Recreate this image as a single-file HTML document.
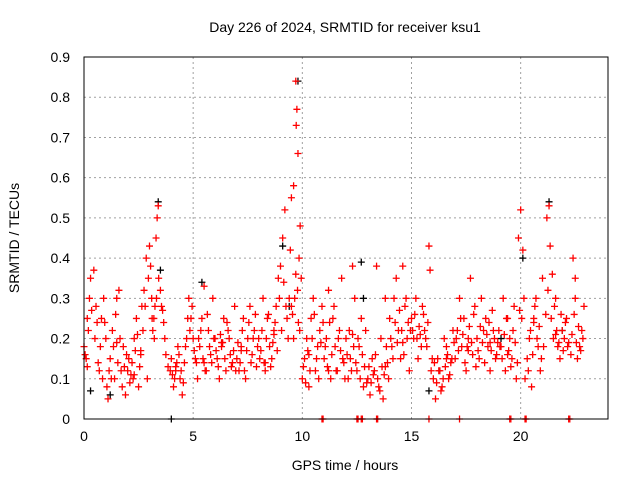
<!DOCTYPE html>
<html><head><meta charset="utf-8"><style>
body{margin:0;background:#fff;width:640px;height:480px;overflow:hidden}
svg{font-family:"Liberation Sans",sans-serif}
</style></head><body>
<svg id="chart" width="640" height="480" viewBox="0 0 640 480">
<rect width="640" height="480" fill="#fff"/>
<text x="345" y="32" font-size="14" text-anchor="middle">Day 226 of 2024, SRMTID for receiver ksu1</text>
<text x="345" y="470" font-size="14" text-anchor="middle">GPS time / hours</text>
<text x="0" y="0" font-size="14" text-anchor="middle" transform="translate(19,238) rotate(-90)">SRMTID / TECUs</text>
<g id="grid"></g>
<g id="ticks"></g>
<g id="black"></g>
<g id="red"></g>
<rect x="84" y="57" width="524" height="362" fill="none" stroke="#000" stroke-width="1"/>
</svg>
<script>
const xTicks=[0,5,10,15,20];
const yTicks=[0,0.1,0.2,0.3,0.4,0.5,0.6,0.7,0.8,0.9];
const yTickLabels=["0","0.1","0.2","0.3","0.4","0.5","0.6","0.7","0.8","0.9"];
const redT=[0.0,0.1,0.2,0.3,0.45,0.55,0.7,0.8,0.9,1.0,
1.05,1.1,1.2,1.3,1.4,1.5,1.6,1.7,1.8,1.9,
2.0,2.1,2.2,2.3,2.4,2.5,2.6,2.7,2.8,2.9,
2.95,3.0,3.05,3.1,3.15,3.2,3.25,3.3,3.35,3.4,3.5,3.7,
4.0,4.1,4.2,4.3,4.4,4.5,4.6,4.7,4.8,4.9,
5.0,5.1,5.2,5.3,5.4,5.5,5.6,5.7,5.8,5.9,
6.0,6.1,6.2,6.3,6.4,6.5,6.6,6.7,6.8,6.9,
7.0,7.1,7.2,7.3,7.4,7.5,7.6,7.7,7.8,7.9,
8.0,8.1,8.2,8.3,8.4,8.5,8.6,8.7,8.8,8.9,
9.0,9.1,9.2,9.3,9.4,9.5,9.6,9.7,9.75,9.72,9.8,9.85,9.9,9.95,9.6,9.5,
10.0,10.1,10.2,10.3,10.4,10.5,10.6,10.7,10.8,10.9,
11.0,11.1,11.2,11.3,11.4,11.5,11.6,11.7,11.8,11.9,
12.0,12.1,12.2,12.3,12.4,12.5,12.6,12.7,12.8,12.9,
13.0,13.1,13.2,13.3,13.4,13.5,13.6,13.7,13.8,13.9,
14.0,14.1,14.2,14.3,14.4,14.5,14.6,14.7,14.8,14.9,
15.0,15.1,15.2,15.3,15.8,15.85,15.6,15.7,15.9,15.5,
16.0,16.1,16.2,16.3,16.4,16.5,16.6,16.7,16.8,16.9,
17.0,17.1,17.2,17.3,17.4,17.5,17.6,17.7,17.8,17.9,
18.0,18.1,18.2,18.3,18.4,18.5,18.6,18.7,18.8,18.9,
19.0,19.1,19.2,19.3,19.4,19.5,19.6,19.7,19.8,19.9,
20.0,20.1,20.2,20.3,20.4,20.5,20.6,20.7,20.8,20.9,
21.0,21.2,21.3,21.35,21.4,21.5,21.6,21.7,21.8,21.9,
22.0,22.1,22.4,22.5,22.6,22.7,22.8,22.5,22.3,22.9,
10.9,10.95,12.5,12.55,12.7,12.75,13.4,13.45,15.8,17.2,19.5,19.55,20.2,20.25,22.2,22.25,
0.15,0.6,1.5,2.3,2.6,3.6,4.2,5.5,6.3,7.2,8.3,8.7,10.3,11.2,12.3,13.8,14.6,15.4,16.6,17.6,18.6,19.4,20.6,21.6,22.2];
const redV=[0.18,0.15,0.22,0.35,0.37,0.28,0.12,0.25,0.3,0.2,
0.08,0.05,0.15,0.22,0.1,0.3,0.32,0.12,0.18,0.06,
0.12,0.09,0.14,0.2,0.25,0.08,0.16,0.22,0.28,0.1,
0.35,0.43,0.38,0.3,0.22,0.25,0.28,0.45,0.5,0.53,0.32,0.2,
0.15,0.08,0.12,0.18,0.1,0.06,0.14,0.2,0.3,0.25,
0.2,0.15,0.1,0.18,0.25,0.33,0.12,0.22,0.16,0.3,
0.2,0.15,0.1,0.18,0.25,0.12,0.22,0.16,0.14,0.28,
0.15,0.12,0.18,0.25,0.1,0.2,0.28,0.16,0.22,0.13,
0.2,0.17,0.3,0.12,0.25,0.18,0.15,0.22,0.28,0.35,
0.38,0.45,0.52,0.25,0.3,0.55,0.58,0.84,0.77,0.73,0.66,0.4,0.48,0.35,0.2,0.28,
0.1,0.15,0.2,0.08,0.25,0.3,0.12,0.18,0.22,0.28,
0.15,0.2,0.32,0.1,0.25,0.18,0.12,0.22,0.35,0.14,
0.2,0.1,0.15,0.38,0.3,0.12,0.18,0.25,0.08,0.22,
0.1,0.06,0.15,0.12,0.38,0.08,0.2,0.05,0.3,0.14,
0.25,0.18,0.3,0.35,0.22,0.15,0.38,0.28,0.2,0.12,
0.25,0.2,0.3,0.15,0.43,0.37,0.22,0.18,0.12,0.28,
0.1,0.05,0.15,0.12,0.08,0.2,0.18,0.1,0.14,0.22,
0.15,0.22,0.3,0.18,0.25,0.12,0.2,0.35,0.16,0.28,
0.2,0.15,0.3,0.22,0.25,0.18,0.12,0.27,0.2,0.16,
0.22,0.18,0.3,0.12,0.25,0.2,0.15,0.28,0.1,0.45,
0.52,0.42,0.1,0.15,0.2,0.08,0.25,0.3,0.18,0.12,
0.35,0.5,0.53,0.43,0.25,0.2,0.3,0.18,0.15,0.22,
0.2,0.25,0.4,0.3,0.15,0.18,0.22,0.35,0.16,0.28,
0,0,0,0,0,0,0,0,0,0,0,0,0,0,0,0,
0.13,0.24,0.19,0.11,0.17,0.27,0.13,0.14,0.19,0.17,0.14,0.21,0.16,0.12,0.21,0.13,0.19,0.21,0.15,0.17,0.19,0.16,0.24,0.21,0.19];
const redT2=[0.05,0.15,0.25,0.35,0.5,0.65,0.75,0.85,0.95,
1.15,1.25,1.35,1.45,1.55,1.65,1.75,1.85,1.95,
2.05,2.15,2.25,2.35,2.45,2.55,2.65,2.75,2.85,
3.12,3.22,3.32,3.42,3.55,3.65,3.75,3.85,3.95,
4.05,4.15,4.25,4.35,4.45,4.55,4.65,4.75,4.85,4.95,
5.05,5.15,5.25,5.35,5.45,5.55,5.65,5.75,5.85,5.95,
6.05,6.15,6.25,6.35,6.45,6.55,6.65,6.75,6.85,6.95,
7.05,7.15,7.25,7.35,7.45,7.55,7.65,7.75,7.85,7.95,
8.05,8.15,8.25,8.35,8.45,8.55,8.65,8.75,8.85,8.95,
9.05,9.15,9.25,9.35,9.45,9.55,9.65,9.7,9.78,9.82,9.88,
10.05,10.15,10.25,10.35,10.45,10.55,10.65,10.75,10.85,10.95,
11.05,11.15,11.25,11.35,11.45,11.55,11.65,11.75,11.85,11.95,
12.05,12.15,12.25,12.35,12.45,12.55,12.65,12.75,12.85,12.95,
13.05,13.15,13.25,13.35,13.45,13.55,13.65,13.75,13.85,13.95,
14.05,14.15,14.25,14.35,14.45,14.55,14.65,14.75,14.85,14.95,
15.05,15.15,15.25,15.35,15.45,15.55,15.65,15.75,15.95,
16.05,16.15,16.25,16.35,16.45,16.55,16.65,16.75,16.85,16.95,
17.05,17.15,17.25,17.35,17.45,17.55,17.65,17.75,17.85,17.95,
18.05,18.15,18.25,18.35,18.45,18.55,18.65,18.75,18.85,18.95,
19.05,19.15,19.25,19.35,19.45,19.55,19.65,19.75,19.85,19.95,
20.05,20.15,20.35,20.45,20.55,20.65,20.75,20.85,20.95,
21.05,21.15,21.25,21.45,21.55,21.65,21.75,21.85,21.95,
22.05,22.15,22.35,22.45,22.55,22.65,22.75,22.85];
const redV2=[0.16,0.25,0.3,0.27,0.2,0.14,0.18,0.1,0.24,
0.12,0.1,0.18,0.26,0.14,0.2,0.08,0.13,0.16,
0.15,0.11,0.1,0.17,0.21,0.13,0.28,0.32,0.4,
0.25,0.2,0.3,0.35,0.28,0.24,0.16,0.13,0.12,
0.11,0.1,0.14,0.16,0.12,0.09,0.18,0.25,0.22,0.28,
0.17,0.14,0.2,0.22,0.15,0.12,0.26,0.18,0.14,0.2,
0.17,0.13,0.21,0.19,0.15,0.24,0.2,0.13,0.17,0.12,
0.19,0.14,0.22,0.12,0.17,0.24,0.14,0.2,0.26,0.18,
0.15,0.22,0.14,0.2,0.26,0.13,0.19,0.24,0.17,0.3,
0.22,0.34,0.28,0.2,0.42,0.26,0.3,0.36,0.32,0.24,0.22,
0.13,0.09,0.17,0.12,0.2,0.26,0.15,0.1,0.19,0.24,
0.18,0.13,0.24,0.16,0.28,0.12,0.2,0.17,0.15,0.1,
0.16,0.22,0.12,0.18,0.14,0.2,0.1,0.16,0.13,0.09,
0.13,0.09,0.11,0.16,0.1,0.07,0.13,0.11,0.18,0.1,
0.2,0.15,0.24,0.19,0.27,0.22,0.16,0.3,0.24,0.22,
0.22,0.26,0.2,0.23,0.18,0.26,0.2,0.24,0.15,
0.14,0.09,0.12,0.07,0.1,0.13,0.16,0.11,0.15,0.19,
0.2,0.17,0.25,0.21,0.14,0.18,0.23,0.19,0.26,0.13,
0.17,0.23,0.19,0.14,0.21,0.24,0.17,0.22,0.15,0.19,
0.18,0.15,0.21,0.25,0.17,0.13,0.22,0.19,0.14,0.27,
0.25,0.3,0.12,0.22,0.16,0.28,0.2,0.23,0.15,
0.18,0.26,0.32,0.36,0.28,0.22,0.19,0.26,0.17,
0.24,0.18,0.21,0.26,0.19,0.23,0.17,0.2];
const blackT=[0.3,1.2,3.4,3.5,5.4,9.1,9.4,12.7,12.8,15.8,19.1,20.1,21.3,21.9,4.0,9.8];
const blackV=[0.07,0.06,0.54,0.37,0.34,0.43,0.28,0.39,0.3,0.07,0.2,0.4,0.54,0.22,0.0,0.84];
const X0=84,X1=608,Y0=419,Y1=57;
const xs=t=>X0+t/24*(X1-X0);
const ys=v=>Y0-v/0.9*(Y0-Y1);
const NS="http://www.w3.org/2000/svg";
const grid=document.getElementById('grid'),ticks=document.getElementById('ticks');
function mk(tag,attrs,parent){const e=document.createElementNS(NS,tag);for(const k in attrs)e.setAttribute(k,attrs[k]);parent.appendChild(e);return e;}
xTicks.forEach(t=>{const x=xs(t);
 if(t>0){const g=mk('line',{x1:x,x2:x,y1:Y1,y2:Y0,stroke:'#a0a0a0','stroke-dasharray':'2,3'},grid);
 
 }
 const l=mk('text',{x:x,y:Y0+22,'font-size':14,'text-anchor':'middle'},ticks);l.textContent=t;
 
 
});
yTicks.forEach((v,i)=>{const y=ys(v);
 if(v>0&&v<0.9){const g=mk('line',{x1:X0,x2:X1,y1:y,y2:y,stroke:'#a0a0a0','stroke-dasharray':'2,3'},grid);
 
 }
 const l=mk('text',{x:X0-14,y:y+5,'font-size':14,'text-anchor':'end'},ticks);l.textContent=yTickLabels[i];
 
 
});
function plus(g,t,v,c){const x=xs(t),y=ys(v);
 const p=mk('path',{d:`M${x-3.5} ${y}H${x+3.5}M${x} ${y-3.5}V${y+3.5}`,stroke:c,'stroke-width':1.3,fill:'none'},g);
 
 }
const bg=document.getElementById('black'),rg=document.getElementById('red');
blackT.forEach((t,i)=>plus(bg,t,blackV[i],'#000'));
redT.forEach((t,i)=>plus(rg,t,redV[i],'#ff0000'));
redT2.forEach((t,i)=>plus(rg,t,redV2[i],'#ff0000'));
</script>
</body></html>
